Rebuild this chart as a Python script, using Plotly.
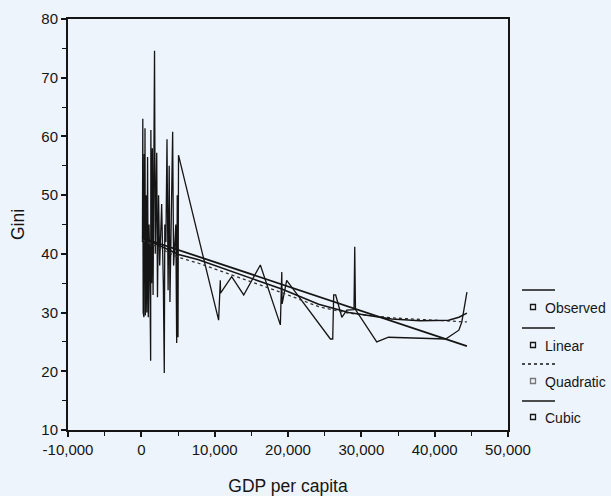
import plotly.graph_objects as go

# ---------------- data ----------------
gdp_obs = [150, 200, 250, 300, 350, 400, 450, 500, 550, 650, 750, 850, 950, 1050, 1150,
           1270, 1300, 1400, 1500, 1600, 1800, 1900, 2100, 2200, 2350, 2500, 2770, 3000,
           3130, 3200, 3350, 3500, 3650, 3800, 3900, 4100, 4270, 4400, 4700, 4820, 4900,
           5000, 5070, 10540, 10770, 10800, 12320, 13960, 16230, 18960, 19150, 19200,
           19820, 25780, 26100, 26230, 26500, 27340, 28020, 29000, 29100, 29200, 32100,
           33700, 41500, 43300, 43700, 44400]
gini_obs = [42, 63, 30, 55, 29.2, 57, 35, 61.4, 29.5, 50, 30, 56.5, 29.2, 45, 38,
            21.8, 61.1, 35, 58, 33, 74.6, 40, 57.2, 32.6, 50, 38, 48.5, 35,
            19.7, 45, 42, 59.5, 33.8, 55, 31.8, 45, 60.8, 38, 45, 24.8, 50,
            25.8, 56.8, 28.7, 35.5, 33.3, 36.1, 33.0, 38.1, 27.9, 36.9, 31.5,
            35.5, 25.5, 25.5, 33.0, 33.0, 29.2, 30.4, 30.5, 41.2, 30.5, 25.0,
            25.8, 25.5, 27.0, 28.4, 33.5]

lin_x = [150, 44400]
lin_y = [42.7, 24.3]

quad_x = [150, 5070, 7810, 15000, 19150, 24180, 28270, 34140, 38000, 41900, 44400]
quad_y = [42.4, 39.4, 38.4, 35.3, 33.4, 31.0, 29.9, 29.1, 28.8, 28.6, 28.4]

cub_x = [150, 5070, 7810, 15000, 19150, 24180, 28270, 34140, 38000, 41900, 43300, 44400]
cub_y = [42.8, 39.9, 39.0, 35.8, 34.0, 31.4, 30.0, 28.9, 28.6, 28.7, 29.2, 29.9]

x_tickvals = [-10000, 0, 10000, 20000, 30000, 40000, 50000]
x_ticktext = ["-10,000", "0", "10,000", "20,000", "30,000", "40,000", "50,000"]
y_tickvals = [10, 20, 30, 40, 50, 60, 70, 80]
legend_labels = ["Observed", "Linear", "Quadratic", "Cubic"]
legend_dash = ["solid", "solid", "dot", "solid"]

# ---------------- figure ----------------
INK = "#151515"
BG = "#eef4fb"
FONT = "Liberation Sans, Arial, sans-serif"

fig = go.Figure()
fig.add_trace(go.Scatter(x=gdp_obs, y=gini_obs, mode="lines",
                         line=dict(color=INK, width=1.3), name="Observed"))
fig.add_trace(go.Scatter(x=lin_x, y=lin_y, mode="lines",
                         line=dict(color=INK, width=1.8), name="Linear"))
fig.add_trace(go.Scatter(x=quad_x, y=quad_y, mode="lines",
                         line=dict(color="#333333", width=1.3, dash="dot"), name="Quadratic"))
fig.add_trace(go.Scatter(x=cub_x, y=cub_y, mode="lines",
                         line=dict(color=INK, width=1.6), name="Cubic"))

W, H = 611, 496
L, R, T, B = 68, 508, 19, 430


def fx(sx):
    return (sx - L) / (R - L)


def fy(sy):
    return (B - sy) / (B - T)


shapes = []
annotations = []
line_py = [290, 328, 364, 401]
text_py = [308, 346, 382, 418]
for lab, dash, lp, tp in zip(legend_labels, legend_dash, line_py, text_py):
    shapes.append(dict(type="line", xref="paper", yref="paper",
                       x0=fx(522), x1=fx(555), y0=fy(lp), y1=fy(lp),
                       line=dict(color=INK, width=1.4, dash=dash)))
    shapes.append(dict(type="rect", xref="paper", yref="paper",
                       x0=fx(530.5), x1=fx(535.5), y0=fy(tp + 1.5), y1=fy(tp - 3.5),
                       line=dict(color=INK if dash == "solid" else "#777777", width=1.3),
                       fillcolor=BG))
    annotations.append(dict(text=lab, xref="paper", yref="paper",
                            x=fx(544), y=fy(tp), xanchor="left", yanchor="middle",
                            showarrow=False, borderpad=0,
                            font=dict(size=14, color=INK, family=FONT)))

fig.update_layout(
    width=W, height=H,
    margin=dict(l=L, r=W - R, t=T, b=H - B, autoexpand=False),
    paper_bgcolor=BG, plot_bgcolor=BG,
    showlegend=False,
    font=dict(family=FONT, color=INK, size=14),
    shapes=shapes, annotations=annotations,
)
fig.update_xaxes(
    range=[-10000, 50000], tickvals=x_tickvals, ticktext=x_ticktext,
    showline=True, linecolor=INK, linewidth=2, mirror=True,
    ticks="outside", ticklen=5, tickwidth=2, tickcolor=INK,
    minor=dict(dtick=5000, tick0=0, ticks="outside", ticklen=4, tickwidth=1.2, tickcolor=INK),
    showgrid=False, zeroline=False, automargin=False,
    tickfont=dict(size=15),
    title=dict(text="GDP per capita", font=dict(size=17.5), standoff=32),
)
fig.update_yaxes(
    range=[10, 80], tickvals=y_tickvals,
    showline=True, linecolor=INK, linewidth=2, mirror=True,
    ticks="outside", ticklen=5, tickwidth=2, tickcolor=INK,
    minor=dict(dtick=5, tick0=0, ticks="outside", ticklen=4, tickwidth=1.2, tickcolor=INK),
    showgrid=False, zeroline=False, automargin=False,
    tickfont=dict(size=15),
    title=dict(text="Gini", font=dict(size=17.5), standoff=12),
)

fig.write_html(
    "out.html",
    config={"displayModeBar": False},
    post_script="document.body.style.margin='0px';document.body.style.background='%s';" % BG,
)
